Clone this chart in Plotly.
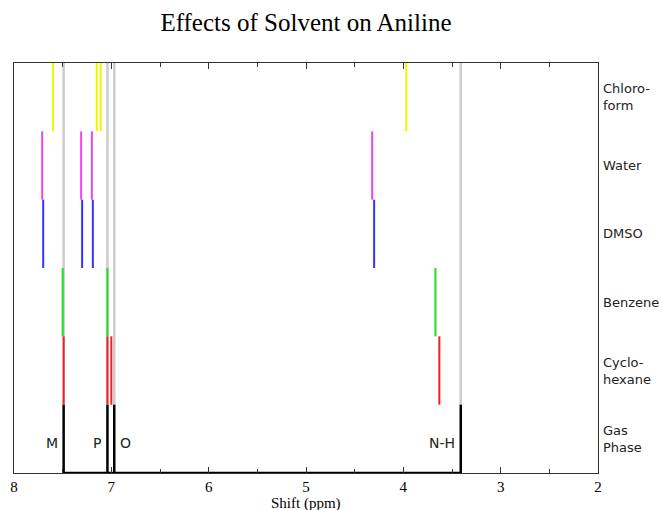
import plotly.graph_objects as go

# Rows (bottom to top) and peak positions in ppm
solvents = ["Gas<br>Phase", "Cyclo-<br>hexane", "Benzene", "DMSO", "Water", "Chloro-<br>form"]
colors = ["#000000", "#ee2222", "#22dd22", "#3333ff", "#ee44ee", "#f5f500"]
gas_phase = [7.49, 7.04, 6.97, 3.41]
cyclohexane = [7.49, 7.04, 7.00, 3.63]
benzene = [7.50, 7.04, 3.67]
dmso = [7.70, 7.30, 7.19, 4.30]
water = [7.71, 7.31, 7.20, 4.32]
chloroform = [7.60, 7.15, 7.11, 3.97]
peak_labels = ["M", "P", "O", "N-H"]

spectra = [gas_phase, cyclohexane, benzene, dmso, water, chloroform]

fig = go.Figure()

# gray reference lines of gas phase peaks through upper rows
gx, gy = [], []
for v in gas_phase:
    gx += [v, v, None]
    gy += [1, 6, None]
fig.add_trace(go.Scatter(x=gx, y=gy, mode="lines", line=dict(color="#cccccc", width=2.5),
                         hoverinfo="skip", showlegend=False))

for i, (peaks, c) in enumerate(zip(spectra, colors)):
    xs, ys = [], []
    for v in peaks:
        xs += [v, v, None]
        ys += [i, i + 1, None]
    fig.add_trace(go.Scatter(x=xs, y=ys, mode="lines",
                             line=dict(color=c, width=2.5 if i == 0 else 2),
                             showlegend=False))

# gas-phase baseline
fig.add_trace(go.Scatter(x=[max(gas_phase), min(gas_phase)], y=[0, 0], mode="lines",
                         line=dict(color="#000000", width=2.5), showlegend=False))

annotations = []
for i, name in enumerate(solvents):
    annotations.append(dict(x=1, xref="paper", y=i + 0.5, yref="y", text=name,
                            showarrow=False, xanchor="left", yanchor="middle", xshift=3,
                            align="left",
                            font=dict(family="DejaVu Sans", size=13, color="#222")))

sides = ["right", "right", "left", "right"]
for lab, v, s in zip(peak_labels, gas_phase, sides):
    annotations.append(dict(x=v, y=0.44, xref="x", yref="y", text=lab, showarrow=False,
                            xanchor=s, yanchor="middle", xshift=-4 if s == "right" else 4,
                            font=dict(family="DejaVu Sans", size=14, color="#222")))

# x-axis title
annotations.append(dict(x=0.5, y=0, xref="paper", yref="paper", text="Shift (ppm)",
                        showarrow=False, xanchor="center", yanchor="top", yshift=-20,
                        font=dict(family="Liberation Serif", size=15, color="#000")))

fig.update_layout(
    width=662, height=510,
    margin=dict(l=14, r=64, t=63, b=37, autoexpand=False),
    paper_bgcolor="white", plot_bgcolor="white",
    title=dict(text="Effects of Solvent on Aniline", x=0.4622, xanchor="center",
               y=0.957, yanchor="middle",
               font=dict(family="Liberation Serif", size=25, color="#000")),
    annotations=annotations,
    xaxis=dict(range=[8, 2], dtick=1, tick0=2, ticks="inside", ticklen=6, tickwidth=1,
               tickcolor="#333", showline=True, linecolor="#333", linewidth=1,
               mirror="allticks", showgrid=False, zeroline=False, automargin=False,
               minor=dict(dtick=0.5, ticks="inside", ticklen=4, tickcolor="#333", showgrid=False),
               tickfont=dict(family="Liberation Serif", size=15, color="#000")),
    yaxis=dict(range=[0, 6], showticklabels=False, ticks="", showline=True, automargin=False,
               linecolor="#333", linewidth=1, mirror=True, showgrid=False, zeroline=False),
)

fig.write_html("out.html")
